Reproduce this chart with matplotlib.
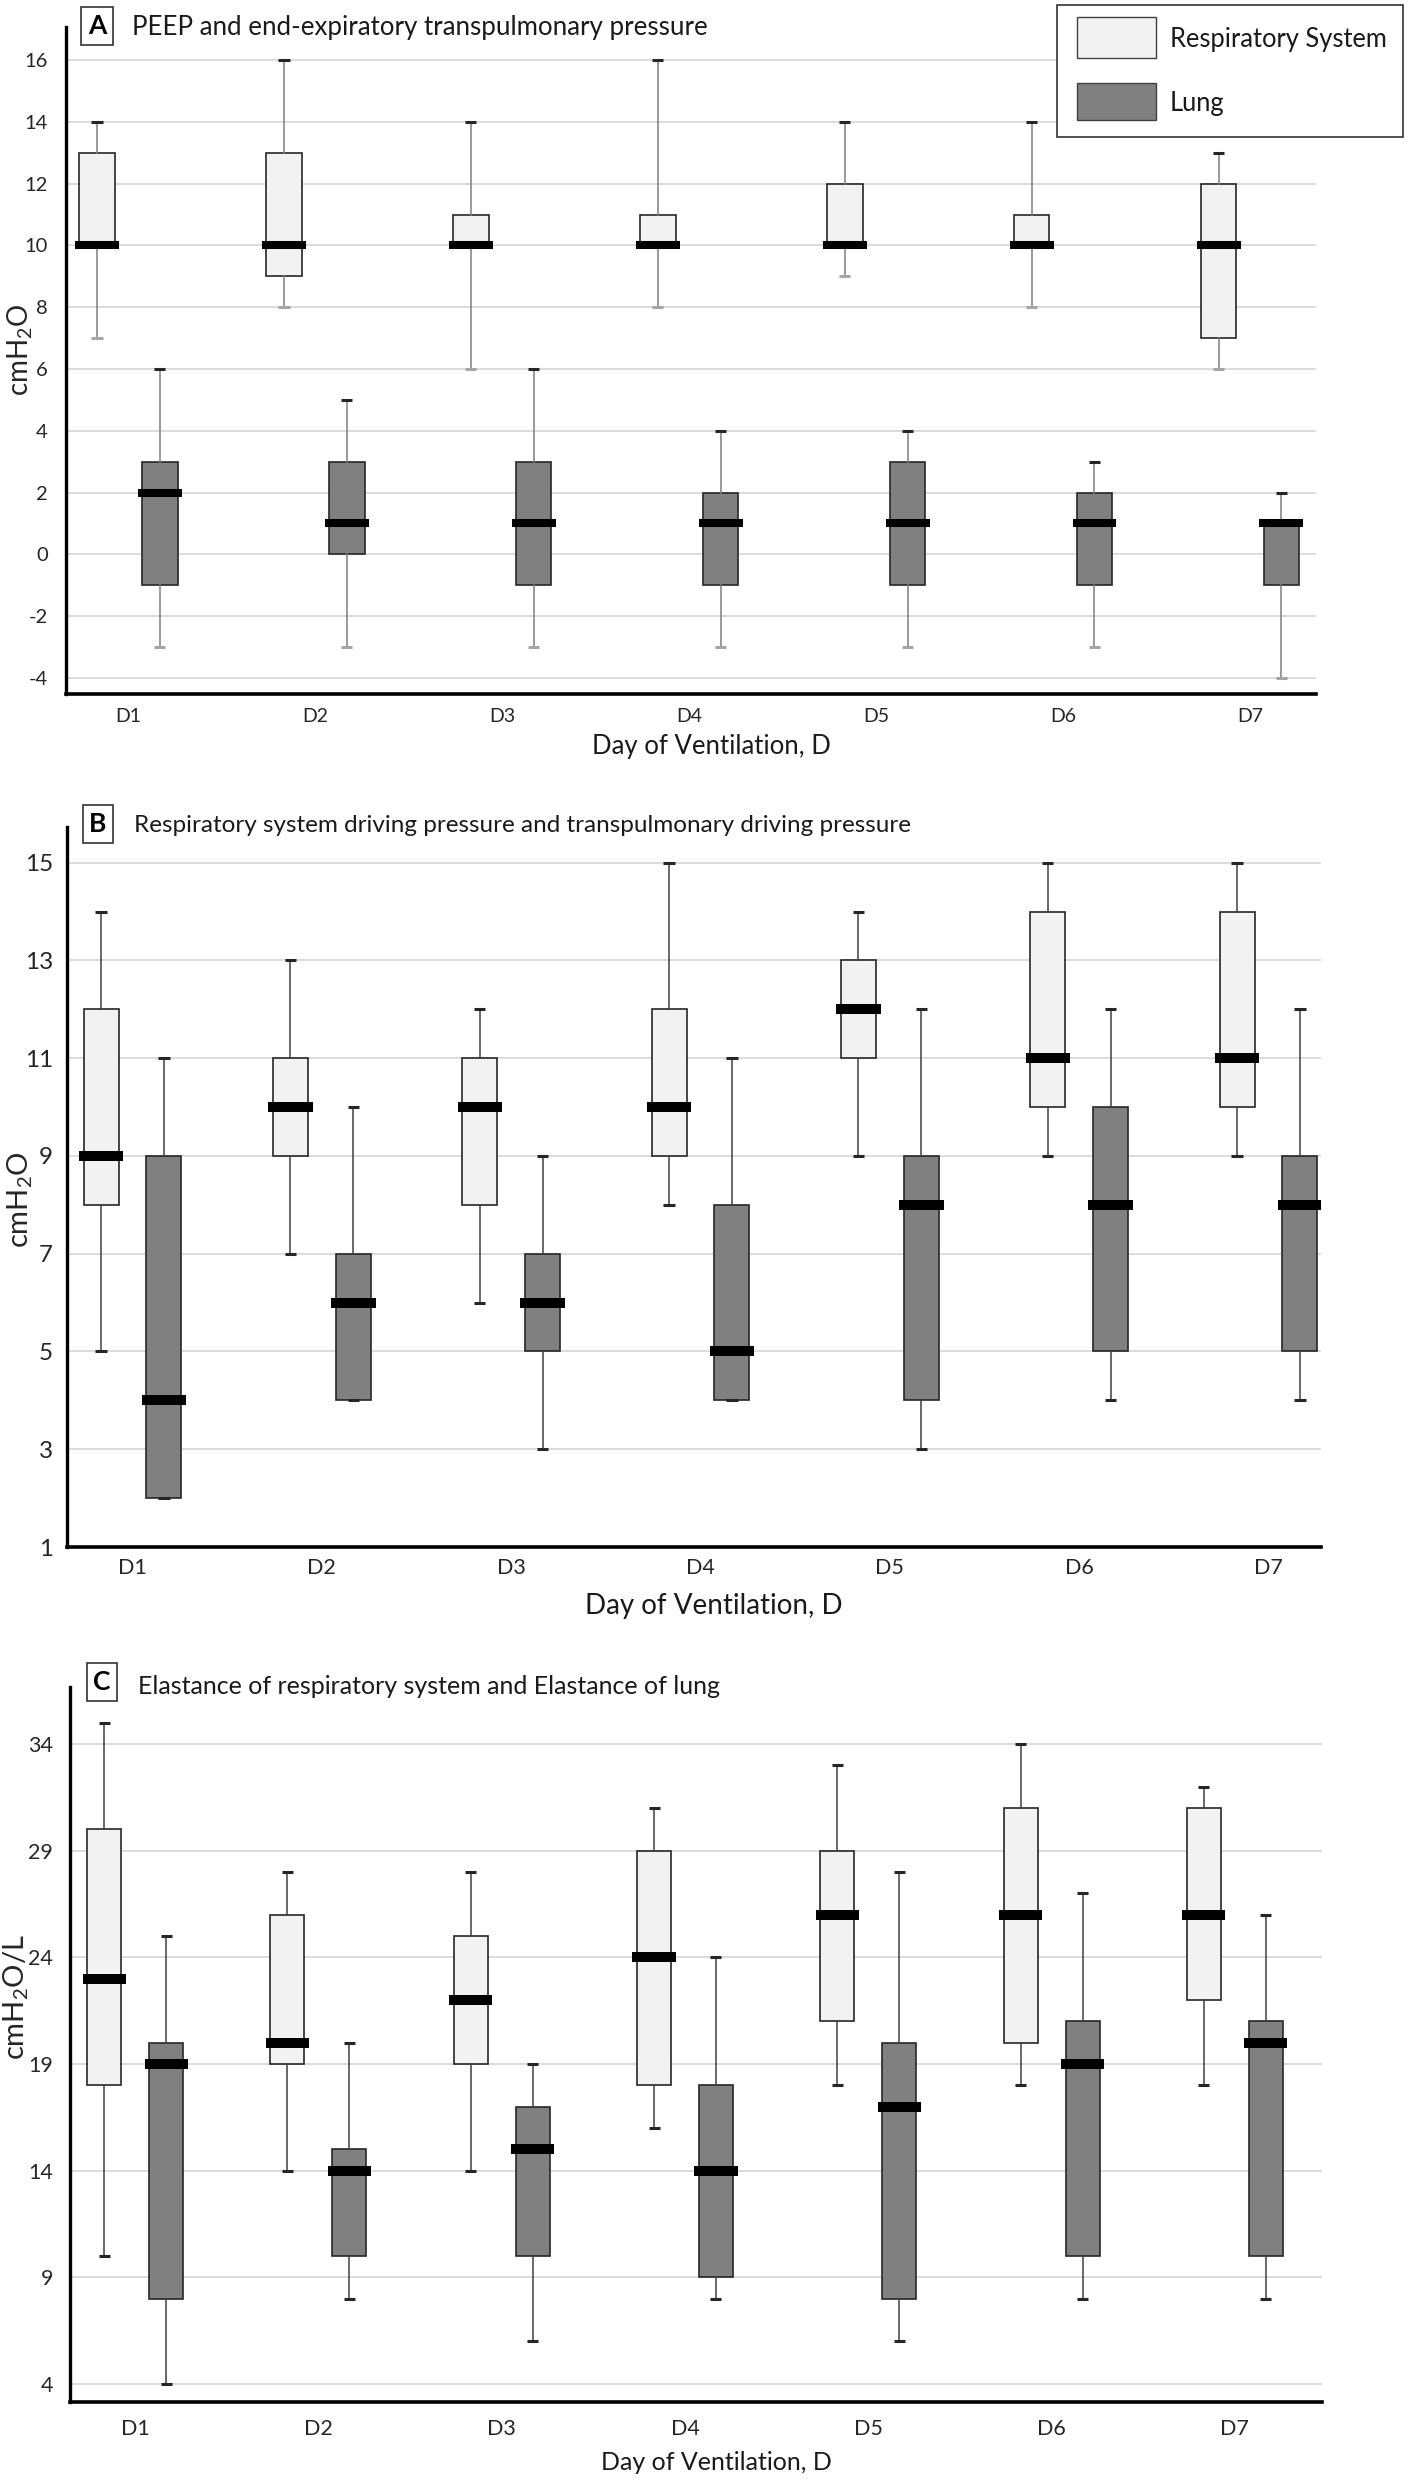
import matplotlib
matplotlib.use("Agg")
import matplotlib.pyplot as plt
import matplotlib.patches as mpatches
import numpy as np

plt.rcParams["font.family"] = ["Lato", "DejaVu Sans"]
plt.rcParams["mathtext.fontset"] = "custom"
plt.rcParams["mathtext.rm"] = "Lato"
plt.rcParams["mathtext.default"] = "rm"

W_PX, H_PX, DPI = 1408, 2481, 100

DAYS = ["D1", "D2", "D3", "D4", "D5", "D6", "D7"]
SERIES = ["Respiratory System", "Lung"]

# panel A: PEEP / end-expiratory transpulmonary pressure (cmH2O)
A_RS_LO = [7, 8, 6, 8, 9, 8, 6]
A_RS_Q1 = [10, 9, 10, 10, 10, 10, 7]
A_RS_MED = [10, 10, 10, 10, 10, 10, 10]
A_RS_Q3 = [13, 13, 11, 11, 12, 11, 12]
A_RS_HI = [14, 16, 14, 16, 14, 14, 13]

A_LUNG_LO = [-3, -3, -3, -3, -3, -3, -4]
A_LUNG_Q1 = [-1, 0, -1, -1, -1, -1, -1]
A_LUNG_MED = [2, 1, 1, 1, 1, 1, 1]
A_LUNG_Q3 = [3, 3, 3, 2, 3, 2, 1]
A_LUNG_HI = [6, 5, 6, 4, 4, 3, 2]

# panel B: driving pressures (cmH2O)
B_RS_LO = [5, 7, 6, 8, 9, 9, 9]
B_RS_Q1 = [8, 9, 8, 9, 11, 10, 10]
B_RS_MED = [9, 10, 10, 10, 12, 11, 11]
B_RS_Q3 = [12, 11, 11, 12, 13, 14, 14]
B_RS_HI = [14, 13, 12, 15, 14, 15, 15]

B_LUNG_LO = [2, 4, 3, 4, 3, 4, 4]
B_LUNG_Q1 = [2, 4, 5, 4, 4, 5, 5]
B_LUNG_MED = [4, 6, 6, 5, 8, 8, 8]
B_LUNG_Q3 = [9, 7, 7, 8, 9, 10, 9]
B_LUNG_HI = [11, 10, 9, 11, 12, 12, 12]

# panel C: elastance (cmH2O/L)
C_RS_LO = [10, 14, 14, 16, 18, 18, 18]
C_RS_Q1 = [18, 19, 19, 18, 21, 20, 22]
C_RS_MED = [23, 20, 22, 24, 26, 26, 26]
C_RS_Q3 = [30, 26, 25, 29, 29, 31, 31]
C_RS_HI = [35, 28, 28, 31, 33, 34, 32]

C_LUNG_LO = [4, 8, 6, 8, 6, 8, 8]
C_LUNG_Q1 = [8, 10, 10, 9, 8, 10, 10]
C_LUNG_MED = [19, 14, 15, 14, 17, 19, 20]
C_LUNG_Q3 = [20, 15, 17, 18, 20, 21, 21]
C_LUNG_HI = [25, 20, 19, 24, 28, 27, 26]

A_TICKS = [-4, -2, 0, 2, 4, 6, 8, 10, 12, 14, 16]
B_TICKS = [1, 3, 5, 7, 9, 11, 13, 15]
C_TICKS = [4, 9, 14, 19, 24, 29, 34]

RS_FILL, LUNG_FILL = "#f2f2f2", "#808080"
EDGE = "#262626"
GRID = "#d9d9d9"


def fx(x):
    return x / W_PX


def fy(y):
    return 1 - y / H_PX


def stats(lo, q1, med, q3, hi):
    return [dict(whislo=a, q1=b, med=c, q3=d, whishi=e, fliers=[])
            for a, b, c, d, e in zip(lo, q1, med, q3, hi)]


PANELS = [
    dict(letter="A", title="PEEP and end-expiratory transpulmonary pressure",
         rs=(A_RS_LO, A_RS_Q1, A_RS_MED, A_RS_Q3, A_RS_HI),
         lung=(A_LUNG_LO, A_LUNG_Q1, A_LUNG_MED, A_LUNG_Q3, A_LUNG_HI),
         ticks=A_TICKS, ylabel="cmH$_2$O",
         box=(66, 1316, 27, 694), ylim=(-4.52, 17.07), xlim=(-0.334, 6.353),
         off=0.168, bw=0.19, mlw=5.8, whisk="#7f7f7f",
         ytick_fs=14.5, xtick_fs=14, xlab_fs=18.5, title_fs=18.6, ylab_fs=20,
         letter_xy=(97, 26), title_xy=(132, 27), ylab_xy=(20, 350), xlab_y=747,
         ypad=13, xpad=10),
    dict(letter="B", title="Respiratory system driving pressure and transpulmonary driving pressure",
         rs=(B_RS_LO, B_RS_Q1, B_RS_MED, B_RS_Q3, B_RS_HI),
         lung=(B_LUNG_LO, B_LUNG_Q1, B_LUNG_MED, B_LUNG_Q3, B_LUNG_HI),
         ticks=B_TICKS, ylabel="cmH$_2$O",
         box=(67, 1321, 827, 1547), ylim=(1, 15.73), xlim=(-0.346, 6.277),
         off=0.166, bw=0.185, mlw=7.2, whisk="#404040",
         ytick_fs=17.5, xtick_fs=15.5, xlab_fs=20, title_fs=17.5, ylab_fs=21,
         letter_xy=(98, 824), title_xy=(134, 826), ylab_xy=(20, 1200), xlab_y=1606,
         ypad=10, xpad=8),
    dict(letter="C", title="Elastance of respiratory system and Elastance of lung",
         rs=(C_RS_LO, C_RS_Q1, C_RS_MED, C_RS_Q3, C_RS_HI),
         lung=(C_LUNG_LO, C_LUNG_Q1, C_LUNG_MED, C_LUNG_Q3, C_LUNG_HI),
         ticks=C_TICKS, ylabel="cmH$_2$O/L",
         box=(70, 1322, 1687, 2402), ylim=(3.15, 36.68), xlim=(-0.355, 6.475),
         off=0.169, bw=0.186, mlw=7.2, whisk="#404040",
         ytick_fs=15.5, xtick_fs=15.5, xlab_fs=18, title_fs=18, ylab_fs=21,
         letter_xy=(102, 1682), title_xy=(138, 1687), ylab_xy=(16, 1997), xlab_y=2463,
         ypad=12, xpad=12),
]

fig = plt.figure(figsize=(W_PX / DPI, H_PX / DPI), dpi=DPI)
fig.patch.set_facecolor("white")

for p in PANELS:
    l, r, t, b = p["box"]
    ax = fig.add_axes([fx(l), fy(b), (r - l) / W_PX, (b - t) / H_PX])
    x = np.arange(len(DAYS))
    for vals, sign, fill in ((p["rs"], -1, RS_FILL), (p["lung"], 1, LUNG_FILL)):
        pos = x + sign * p["off"]
        art = ax.bxp(stats(*vals), positions=pos, widths=p["bw"], patch_artist=True,
                     showfliers=False, capwidths=0.06, manage_ticks=False,
                     boxprops=dict(facecolor=fill, edgecolor=EDGE, linewidth=1.2),
                     whiskerprops=dict(color=p["whisk"], linewidth=1.1),
                     capprops=dict(color="#262626", linewidth=2.2, solid_capstyle="butt"),
                     medianprops=dict(linewidth=0))
        if p["letter"] == "A":
            for cap in art["caps"][0::2]:
                cap.set_color("#a6a6a6")
        ax.hlines(vals[2], pos - 0.1175, pos + 0.1175, colors="black",
                  linewidth=p["mlw"], zorder=5)

    ax.set_xlim(*p["xlim"])
    ax.set_ylim(*p["ylim"])
    ax.set_yticks(p["ticks"])
    ax.set_yticklabels([str(v) for v in p["ticks"]], fontsize=p["ytick_fs"], color="#262626")
    ax.set_xticks(x)
    ax.set_xticklabels(DAYS, fontsize=p["xtick_fs"], color="#262626")
    ax.tick_params(axis="both", length=0)
    ax.tick_params(axis="y", pad=p["ypad"])
    ax.tick_params(axis="x", pad=p["xpad"])
    ax.grid(axis="y", color=GRID, linewidth=1.3)
    ax.set_axisbelow(True)
    ax.spines["top"].set_visible(False)
    ax.spines["right"].set_visible(False)
    ax.spines["left"].set_linewidth(2.4)
    ax.spines["bottom"].set_linewidth(2.6)
    ax.spines["left"].set_color("black")
    ax.spines["bottom"].set_color("black")

    fig.text(fx((l + r) / 2 + 20), fy(p["xlab_y"]), "Day of Ventilation, D",
             fontsize=p["xlab_fs"], ha="center", va="center", color="#1a1a1a")
    fig.text(fx(p["ylab_xy"][0]), fy(p["ylab_xy"][1]), p["ylabel"], rotation=90,
             fontsize=p["ylab_fs"], ha="center", va="center", color="#262626")
    fig.text(fx(p["letter_xy"][0]), fy(p["letter_xy"][1]), p["letter"],
             fontsize=19, fontweight="bold", ha="center", va="center",
             bbox=dict(boxstyle="square,pad=0.25", facecolor="white",
                       edgecolor="#333333", linewidth=1.2))
    fig.text(fx(p["title_xy"][0]), fy(p["title_xy"][1]), p["title"],
             fontsize=p["title_fs"], ha="left", va="center", color="#1a1a1a")

# legend box, top right
fig.add_artist(mpatches.Rectangle((fx(1057), fy(137)), (1403 - 1057) / W_PX, (137 - 5) / H_PX,
                                  transform=fig.transFigure, facecolor="white",
                                  edgecolor="#333333", linewidth=1.2))
for (y0, y1), fill, name in zip([(17, 58), (83, 120)], [RS_FILL, LUNG_FILL], SERIES):
    fig.add_artist(mpatches.Rectangle((fx(1077), fy(y1)), 79 / W_PX, (y1 - y0) / H_PX,
                                      transform=fig.transFigure, facecolor=fill,
                                      edgecolor="#404040", linewidth=1.0))
    fig.text(fx(1170), fy((y0 + y1) / 2 + 2), name, fontsize=18.4, ha="left",
             va="center", color="#1a1a1a")

fig.savefig("out.png", dpi=DPI, facecolor="white")
